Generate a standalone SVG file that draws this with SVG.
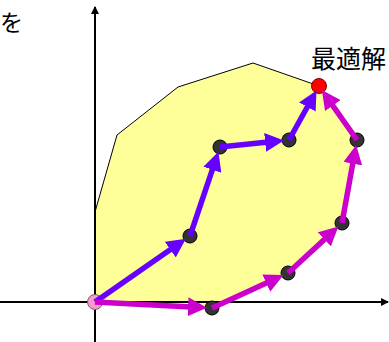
<svg xmlns="http://www.w3.org/2000/svg" width="389" height="342" viewBox="0 0 389 342">
<style>
.ax{stroke:#000;stroke-width:2;fill:none}
.blue{stroke:#6600FF;stroke-width:5.5;fill:none;marker-end:url(#hb)}
.mag{stroke:#CC00CC;stroke-width:5.5;fill:none;marker-end:url(#hm)}
.node{fill:#333;stroke:#000;stroke-width:1}
.lbl{font-family:"Noto Sans CJK JP","Noto Sans CJK SC",sans-serif;fill:#000}
</style>
<defs>
<marker id="hb" markerUnits="userSpaceOnUse" markerWidth="19" markerHeight="19" refX="8" refY="9.5" orient="auto"><path d="M0,0 L19,9.5 L0,19 z" fill="#6600FF"/></marker>
<marker id="hm" markerUnits="userSpaceOnUse" markerWidth="19" markerHeight="19" refX="8" refY="9.5" orient="auto"><path d="M0,0 L19,9.5 L0,19 z" fill="#CC00CC"/></marker>
<marker id="ha" markerUnits="userSpaceOnUse" markerWidth="8" markerHeight="8" refX="7" refY="4" orient="auto"><path d="M0,0 L8,4 L0,8 z" fill="#000"/></marker>
</defs>
<g id="region">
<polygon points="95,212 117,135 178,87 253,63 319,86 357,140 342,223 288,273 212,308 95,302" fill="#FFFF99"/>
<polyline points="95,212 117,135 178,87 253,63 319,86" fill="none" stroke="#000" stroke-width="1"/>
</g>
<g id="axes">
<line class="ax" x1="95" y1="342" x2="95" y2="7" marker-end="url(#ha)"/>
<line class="ax" x1="0" y1="302" x2="388" y2="302" marker-end="url(#ha)"/>
</g>
<g id="nodes">
<g id="n-origin"><circle cx="95" cy="302" r="7.5" fill="#FF99CC" stroke="#666" stroke-width="1"/></g>
<g id="n-b"><circle class="node" cx="190" cy="236" r="7"/></g>
<g id="n-c"><circle class="node" cx="220" cy="147" r="7"/></g>
<g id="n-d"><circle class="node" cx="289" cy="140" r="7"/></g>
<g id="n-e"><circle class="node" cx="212" cy="308" r="7"/></g>
<g id="n-f"><circle class="node" cx="288" cy="273" r="7"/></g>
<g id="n-g"><circle class="node" cx="342" cy="223" r="7"/></g>
<g id="n-h"><circle class="node" cx="357" cy="140" r="7"/></g>
<g id="n-opt"><circle cx="319" cy="86" r="7.5" fill="#FF0000" stroke="#800000" stroke-width="1"/></g>
</g>
<g id="connectors">
<line class="blue" x1="95" y1="302" x2="176.9" y2="245.1"/>
<line class="blue" x1="190" y1="236" x2="214.9" y2="162.2"/>
<line class="blue" x1="220" y1="147" x2="273.1" y2="141.6"/>
<line class="blue" x1="289" y1="140" x2="311.2" y2="100"/>
<line class="mag" x1="95" y1="302" x2="196" y2="307.2"/>
<line class="mag" x1="212" y1="308" x2="273.5" y2="279.7"/>
<line class="mag" x1="288" y1="273" x2="330.3" y2="233.9"/>
<line class="mag" x1="342" y1="223" x2="354.2" y2="155.8"/>
<line class="mag" x1="357" y1="140" x2="328.2" y2="99.1"/>
</g>
<text class="lbl" x="0" y="31" font-size="23">を</text>
<text class="lbl" x="311" y="68" font-size="25">最適解</text>
</svg>
